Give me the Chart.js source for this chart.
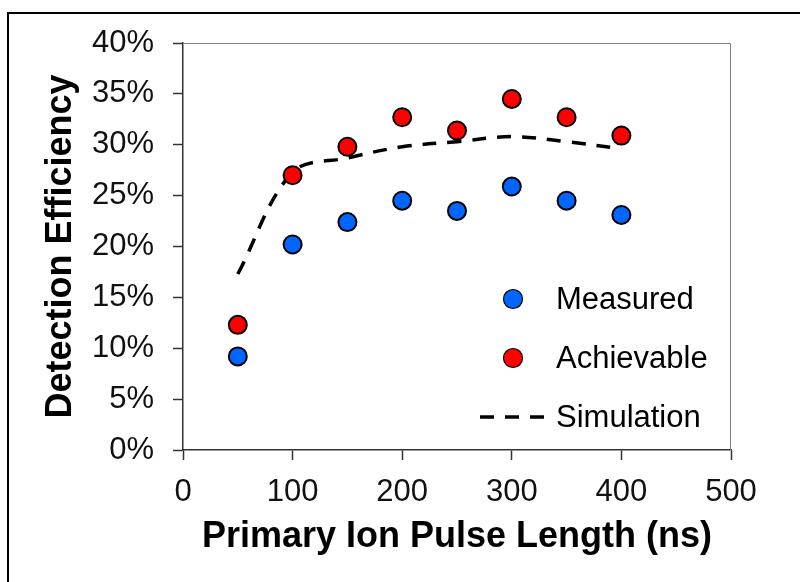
<!DOCTYPE html>
<html>
<head>
<meta charset="utf-8">
<script src="https://cdn.jsdelivr.net/npm/chart.js@4/dist/chart.umd.min.js"></script>
<style>
  html, body { margin: 0; padding: 0; background: #fff; }
  #wrap { width: 800px; height: 582px; }
</style>
</head>
<body>
<div id="wrap"><canvas id="effChart" width="800" height="582"></canvas></div>
<script>
// pulse length (ns)
var pulseLen = [50, 100, 150, 200, 250, 300, 350, 400];
// detection efficiency (%)
var measured   = [9.2, 20.2, 22.4, 24.5, 23.5, 25.9, 24.5, 23.1];
var achievable = [12.3, 27.0, 29.8, 32.7, 31.4, 34.5, 32.7, 30.9];
var simulation = [17.3, 27.3, 28.7, 29.8, 30.3, 30.8, 30.3, 29.6];

var FONT = '"Liberation Sans", Arial, sans-serif';
var DASH = [14, 11];

function toPoints(xs, ys){
    var pts = [];
    for (var i = 0; i < xs.length; i++) {
        pts.push({x: xs[i], y: ys[i]});
    }
    return pts;
}

// outer frame, plot frame and the legend
var framePlugin = {
    id: 'frames',
    beforeDraw: function(chart){
        var c = chart.ctx;
        c.save();
        c.fillStyle = '#fff';
        c.fillRect(0, 0, chart.width, chart.height);
        c.strokeStyle = '#000';
        c.lineWidth = 2;
        c.beginPath();
        c.moveTo(8, chart.height);
        c.lineTo(8, 13);
        c.lineTo(chart.width, 13);
        c.stroke();
        c.restore();
    },
    beforeDatasetsDraw: function(chart){
        var a = chart.chartArea, c = chart.ctx;
        c.save();
        c.strokeStyle = '#808080';
        c.lineWidth = 1;
        c.beginPath();
        c.moveTo(a.left, a.top + 0.5);
        c.lineTo(a.right - 0.5, a.top + 0.5);
        c.lineTo(a.right - 0.5, a.bottom);
        c.stroke();
        c.restore();
    },
    afterDraw: function(chart){
        var c = chart.ctx;
        var ds = chart.data.datasets;
        var textX = 556;
        var rows = [299, 358, 417];
        c.save();
        c.font = '31px ' + FONT;
        c.fillStyle = '#000';
        c.textBaseline = 'middle';
        for (var i = 0; i < 2; i++) {
            c.beginPath();
            c.arc(513, rows[i], 9.5, 0, Math.PI * 2);
            c.fillStyle = ds[i].backgroundColor;
            c.fill();
            c.lineWidth = 1.2;
            c.strokeStyle = '#000';
            c.stroke();
            c.fillStyle = '#000';
            c.fillText(ds[i].label, textX, rows[i] + 1);
        }
        c.beginPath();
        c.setLineDash(DASH);
        c.lineWidth = 3.5;
        c.strokeStyle = '#000';
        c.moveTo(480, rows[2]);
        c.lineTo(546, rows[2]);
        c.stroke();
        c.setLineDash([]);
        c.fillText(ds[2].label, textX, rows[2] + 1);
        c.restore();
    }
};

var ctx = document.getElementById('effChart');

var chart = new Chart(ctx, {
    type: 'scatter',
    data: {
        datasets: [{
            label: 'Measured',
            data: toPoints(pulseLen, measured),
            backgroundColor: '#0066ff',
            borderColor: '#000',
            borderWidth: 2,
            pointRadius: 9,
            pointHoverRadius: 9
        }, {
            label: 'Achievable',
            data: toPoints(pulseLen, achievable),
            backgroundColor: '#ff0000',
            borderColor: '#000',
            borderWidth: 2,
            pointRadius: 9,
            pointHoverRadius: 9
        }, {
            label: 'Simulation',
            data: toPoints(pulseLen, simulation),
            showLine: true,
            borderColor: '#000',
            backgroundColor: '#000',
            borderWidth: 3.5,
            borderDash: DASH,
            tension: 0.35,
            pointRadius: 0,
            pointHoverRadius: 0
        }]
    },
    options: {
        responsive: false,
        animation: false,
        events: [],
        layout: { padding: { left: 0, top: 43, right: 69, bottom: 0 } },
        plugins: {
            legend: { display: false },
            tooltip: { enabled: false }
        },
        scales: {
            x: {
                type: 'linear',
                min: 0, max: 500,
                afterFit: function(s){ s.height = 132; },
                border: { display: true, color: '#333', width: 1.5 },
                grid: { drawOnChartArea: false, drawTicks: true, tickLength: 10, tickColor: '#333', tickWidth: 1.5 },
                ticks: { stepSize: 100, padding: 14, color: '#111', font: { family: FONT, size: 31 }, maxRotation: 0 },
                title: {
                    display: true,
                    text: 'Primary Ion Pulse Length (ns)',
                    color: '#000',
                    font: { family: FONT, size: 36, weight: 'bold' },
                    padding: { top: 0, bottom: 23 }
                }
            },
            y: {
                min: 0, max: 40,
                afterFit: function(s){ s.width = 183; },
                border: { display: true, color: '#333', width: 1.5 },
                grid: { drawOnChartArea: false, drawTicks: true, tickLength: 10, tickColor: '#333', tickWidth: 1.5 },
                ticks: {
                    stepSize: 5, padding: 19, autoSkip: false, color: '#111',
                    font: { family: FONT, size: 31 },
                    callback: function(v){ return v + '%'; }
                },
                title: {
                    display: true,
                    text: 'Detection Efficiency',
                    color: '#000',
                    font: { family: FONT, size: 36, weight: 'bold' },
                    padding: { top: 39, bottom: 0 }
                }
            }
        }
    },
    plugins: [framePlugin]
});
</script>
</body>
</html>
